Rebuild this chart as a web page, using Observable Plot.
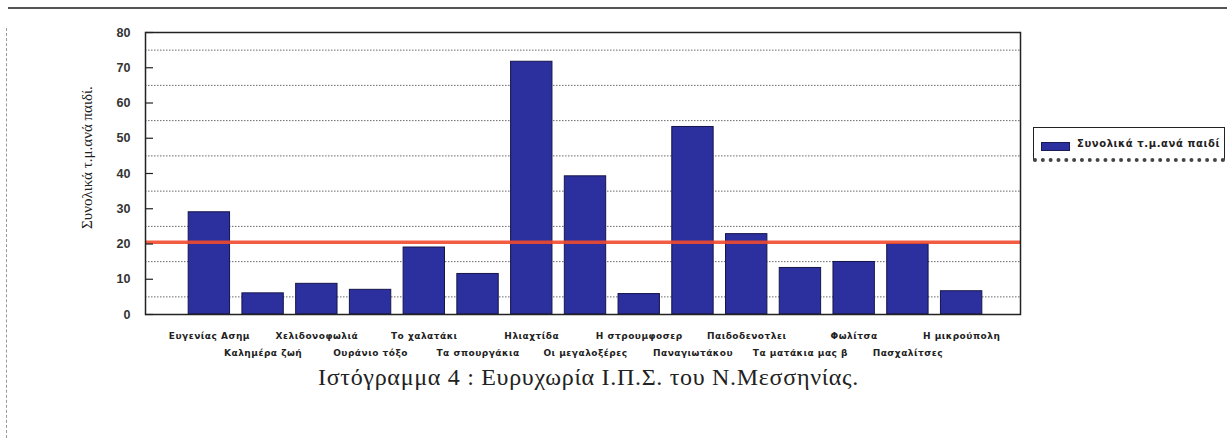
<!DOCTYPE html>
<html>
<head>
<meta charset="utf-8">
<script src="https://cdn.jsdelivr.net/npm/d3@7"></script>
<script src="https://cdn.jsdelivr.net/npm/@observablehq/plot@0.6"></script>
<style>
  html, body { margin: 0; padding: 0; background: #fff; }
  #wrap { position: relative; width: 1227px; height: 447px; overflow: hidden; }
  #topline { position: absolute; left: 8px; top: 7px; width: 1219px; border-top: 2px solid #555; }
  #leftline { position: absolute; left: 6px; top: 28px; height: 410px; border-left: 1px dashed #999; }
  #legend { position: absolute; left: 1033px; top: 127px; width: 190px; height: 30px;
            border: 1.5px solid #222; border-bottom: 4px dotted #444; background: #fff;
            font-family: "DejaVu Sans", sans-serif; font-weight: bold; font-size: 10px; color: #222; }
  #legend .sw { position: absolute; left: 7px; top: 14px; width: 27px; height: 7px;
                background: #2c2f9e; border: 1px solid #1a1a55; }
  #legend .lb { position: absolute; left: 43px; top: 10px; letter-spacing: 0.6px; white-space: nowrap; }
  #caption { position: absolute; left: 318px; top: 364px; font-family: "Liberation Serif", serif;
             font-size: 24px; letter-spacing: 0.7px; color: #222; white-space: nowrap; }
  #chart { position: absolute; left: 0; top: 0; }
</style>
</head>
<body>
<div id="wrap">
  <div id="topline"></div>
  <div id="leftline"></div>
  <div id="chart"></div>
  <div id="legend"><div class="sw"></div><div class="lb"></div></div>
  <div id="caption"></div>
</div>
<script>
const categories = [
  "Ευγενίας Ασημ", "Καλημέρα ζωή", "Χελιδονοφωλιά", "Ουράνιο τόξο", "Το χαλατάκι",
  "Τα σπουργάκια", "Ηλιαχτίδα", "Οι μεγαλοξέρες", "Η στρουμφοσερ", "Παναγιωτάκου",
  "Παιδοδενοτλει", "Τα ματάκια μας β", "Φωλίτσα", "Πασχαλίτσες", "Η μικρούπολη"
];
const values = [29, 6, 8.7, 7, 19, 11.5, 71.7, 39.2, 5.8, 53.2, 22.8, 13.2, 14.9, 20, 6.6];
const referenceLine = 20.5;
const yTicks = [0, 10, 20, 30, 40, 50, 60, 70, 80];
const gridValues = [5, 15, 25, 35, 45, 55, 65, 75];
const seriesName = "Συνολικά τ.μ.ανά παιδί";
const yTitle = "Συνολικά τ.μ.ανά παιδί.";
const captionText = "Ιστόγραμμα 4 : Ευρυχωρία Ι.Π.Σ. του Ν.Μεσσηνίας.";

const data = categories.map((c, i) => ({name: c, value: values[i], row: i % 2}));
const row1 = data.filter(d => d.row === 0);
const row2 = data.filter(d => d.row === 1);

const labelFont = "DejaVu Sans, sans-serif";

const chart = Plot.plot({
  width: 1227,
  height: 365,
  marginLeft: 145,
  marginRight: 207,
  marginTop: 32,
  marginBottom: 51,
  style: {background: "transparent", overflow: "visible"},
  x: {domain: categories, paddingInner: 0.23, paddingOuter: 0.115, insetLeft: 37, insetRight: 32, round: false, axis: null},
  y: {domain: [0, 80], axis: null},
  marks: [
    Plot.gridY(gridValues, {stroke: "#444", strokeOpacity: 0.8, strokeDasharray: "1.5,1.5", strokeWidth: 1}),
    Plot.barY(data, {x: "name", y: "value", fill: "#2c2f9e", stroke: "#15154a", strokeWidth: 1}),
    Plot.ruleY([referenceLine], {stroke: "#f04a2e", strokeWidth: 3.5, strokeOpacity: 0.9}),
    Plot.axisY({ticks: yTicks, tickSize: -8, tickFormat: () => "", stroke: "#222", strokeWidth: 1.2, label: null}),
    Plot.axisY({ticks: yTicks, tickSize: 0, tickPadding: 15, fontFamily: "Liberation Sans, Arial, sans-serif",
                fontWeight: "bold", fontSize: 12.5, fill: "#333", label: null}),
    Plot.frame({stroke: "#222", strokeWidth: 1.5}),
    Plot.text(row1, {x: "name", text: "name", frameAnchor: "bottom", dy: 22, lineAnchor: "middle",
                     fontFamily: labelFont, fontWeight: "bold", fontSize: 9, fill: "#222"}),
    Plot.text(row2, {x: "name", text: "name", frameAnchor: "bottom", dy: 39, lineAnchor: "middle",
                     fontFamily: labelFont, fontWeight: "bold", fontSize: 9, fill: "#222"}),
    Plot.text([yTitle], {frameAnchor: "left", textAnchor: "middle", dx: -58, dy: -16, rotate: -90, text: d => d,
                         fontFamily: "Liberation Serif, serif", fontSize: 15, fill: "#222"})
  ]
});
chart.querySelectorAll("g[font-size='9'] text").forEach(t => { t.style.letterSpacing = "0.5px"; });
document.getElementById("chart").appendChild(chart);
document.querySelector("#legend .lb").textContent = seriesName;
document.getElementById("caption").textContent = captionText;
</script>
</body>
</html>
